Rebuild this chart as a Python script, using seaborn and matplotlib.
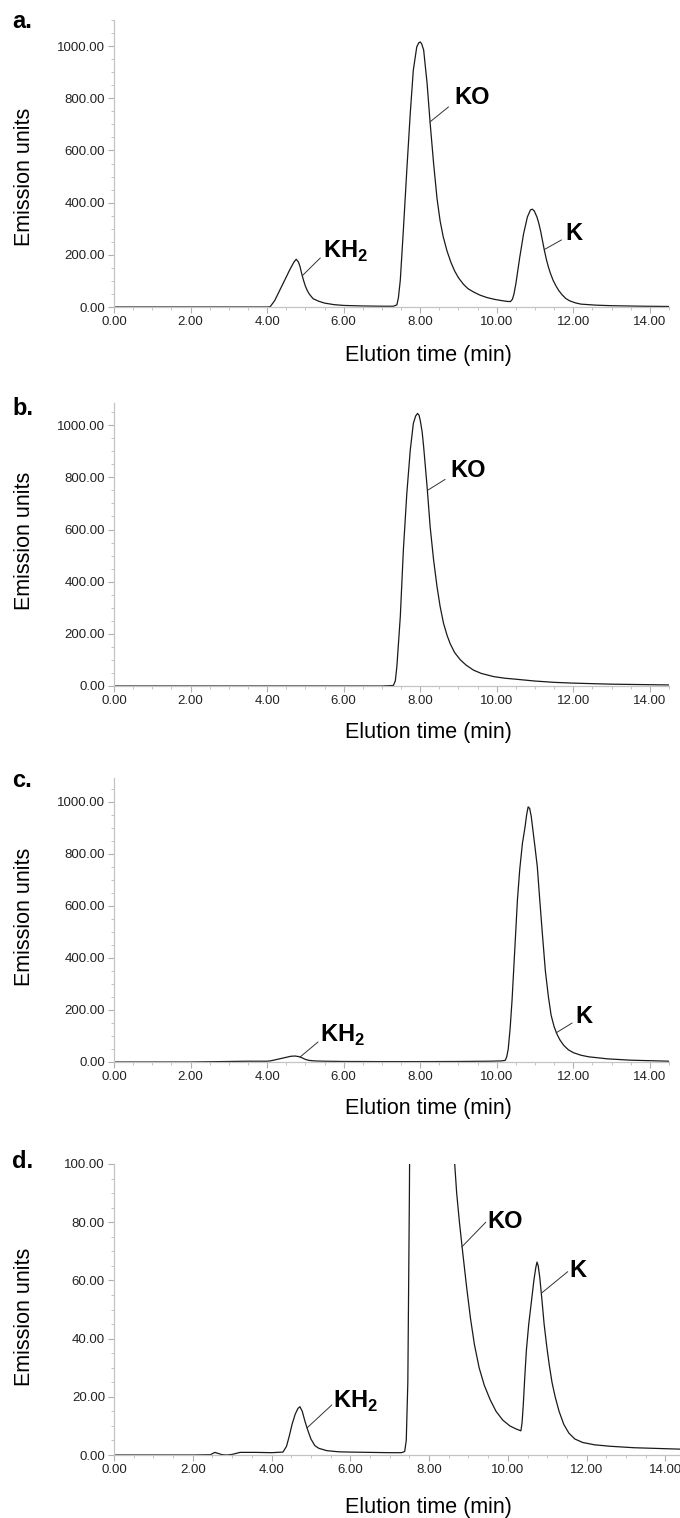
import matplotlib
matplotlib.use("Agg")
import matplotlib.pyplot as plt
import matplotlib.ticker as mticker
import seaborn as sns
import pandas as pd

# chromatogram traces (time in min, emission units)
time_a = [0.0, 2.0, 4.0, 4.08, 4.2, 4.3, 4.4, 4.5, 4.6, 4.7, 4.76, 4.82, 4.86, 4.9, 4.95, 5.0,
          5.05, 5.1, 5.2, 5.35, 5.5, 5.75, 6.0, 6.5, 7.0, 7.3, 7.39, 7.43, 7.48, 7.56, 7.65,
          7.74, 7.82, 7.91, 7.96, 8.0, 8.04, 8.09, 8.18, 8.26, 8.35, 8.44, 8.52, 8.6, 8.7,
          8.8, 8.9, 9.0, 9.13, 9.25, 9.4, 9.57, 9.75, 9.95, 10.15, 10.3, 10.36, 10.41, 10.45,
          10.5, 10.6, 10.7, 10.8, 10.88, 10.93, 10.98, 11.05, 11.1, 11.15, 11.2, 11.25, 11.3,
          11.35, 11.4, 11.47, 11.55, 11.62, 11.7, 11.8, 11.9, 12.05, 12.2, 12.6, 13.0, 13.8,
          14.5]
signal_a = [0, 0, 0, 1, 25, 55, 85, 115, 145, 172, 183, 172, 155, 130, 103, 80,
            63, 50, 32, 22, 15, 9, 6, 4, 3, 3, 8, 35, 103, 295, 525,
            742, 908, 997, 1012, 1016, 1008, 985, 857, 704, 550, 415, 330, 270, 215,
            172, 138, 112, 87, 70, 57, 45, 36, 29, 24, 21, 21, 30, 50,
            90, 190, 280, 345, 372, 375, 368, 345, 320, 288, 250, 213, 180,
            153, 130, 103, 80, 63, 48, 33, 24, 16, 11, 7, 5, 3,
            2]

time_b = [0.0, 2.0, 4.0, 6.0, 7.0, 7.3, 7.35, 7.39, 7.48, 7.56, 7.65, 7.74, 7.82, 7.88, 7.93,
          7.97, 8.0, 8.05, 8.09, 8.18, 8.26, 8.35, 8.44, 8.52, 8.61, 8.7, 8.78, 8.9, 9.05,
          9.2, 9.39, 9.6, 9.92, 10.2, 10.5, 11.0, 11.5, 12.0, 13.0, 14.5]
signal_b = [0, 0, 0, 0, 0, 2, 20, 74, 266, 521, 738, 904, 1006, 1035, 1045,
            1038, 1019, 975, 917, 764, 610, 483, 380, 305, 240, 195, 163, 128, 100,
            80, 61, 48, 36, 30, 26, 19, 14, 11, 7, 4]

time_c = [0.0, 2.0, 3.0, 3.5, 4.0, 4.08, 4.2, 4.35, 4.5, 4.62, 4.73, 4.82, 4.9, 5.0, 5.1,
          5.25, 5.5, 6.0, 7.0, 8.0, 9.0, 9.8, 10.1, 10.22, 10.26, 10.3, 10.35, 10.4, 10.47,
          10.54, 10.6, 10.67, 10.74, 10.78, 10.82, 10.86, 10.9, 10.95, 11.0, 11.06, 11.12,
          11.19, 11.27, 11.35, 11.42, 11.5, 11.58, 11.65, 11.75, 11.87, 12.0, 12.2, 12.4,
          12.9, 13.5, 14.5]
signal_c = [0, 0, 2, 3, 3, 4, 8, 13, 18, 22, 23, 21, 17, 10, 6,
            4, 3, 2, 1.5, 1.5, 2, 3, 4, 6, 20, 50, 130, 239, 430,
            623, 740, 840, 905, 950, 981, 975, 945, 885, 825, 750, 630,
            496, 350, 250, 180, 135, 105, 85, 64, 47, 36, 26, 20,
            12, 7, 3]

time_d = [0.0, 1.0, 2.0, 2.45, 2.56, 2.65, 2.75, 2.86, 3.0, 3.2, 3.4, 3.6, 4.0, 4.29, 4.38,
          4.45, 4.52, 4.6, 4.67, 4.72, 4.78, 4.85, 4.92, 5.0, 5.1, 5.2, 5.4, 5.7, 6.0, 6.5,
          7.0, 7.3, 7.38, 7.42, 7.46, 7.5, 7.53, 7.6, 7.7, 8.0, 8.3, 8.5, 8.6, 8.65, 8.7,
          8.77, 8.85, 8.95, 9.05, 9.15, 9.27, 9.4, 9.55, 9.7, 9.87, 10.05, 10.2, 10.33, 10.36,
          10.39, 10.43, 10.47, 10.53, 10.6, 10.66, 10.71, 10.74, 10.77, 10.81, 10.86, 10.92,
          10.99, 11.05, 11.12, 11.2, 11.3, 11.42, 11.55, 11.7, 11.9, 12.2, 12.6, 13.2, 14.4]
signal_d = [0, 0, 0, 0.1, 0.9, 0.5, 0.1, 0.0, 0.2, 0.9, 0.9, 0.9, 0.8, 1.0, 3,
            6.5, 10.5, 14, 16, 16.6, 15, 11.5, 8.5, 5.5, 3.2, 2.3, 1.5, 1.1, 1.0, 0.9,
            0.8, 0.8, 1.2, 5, 25, 90, 160, 300, 500, 1000, 650, 240, 130, 100, 90,
            80, 70, 58, 47, 38, 30, 24, 19, 15, 12, 10, 9, 8.3, 11,
            17, 27, 36, 45, 53, 60, 64.5, 66.3, 65, 61, 54, 45,
            37, 31, 25, 20, 15, 10.5, 7.5, 5.5, 4.3, 3.5, 3, 2.5, 2]

panels = [
    dict(letter="a.", t=time_a, y=signal_a, ylim=1100, xmax=14.5, major=200, minor=50,
         rect=[114, 20, 669, 307], ylab_y=0.453, xlab_top=345,
         peaks=[("KH$_\\mathbf{2}$", (4.92, 120), (5.39, 188), (5.45, 188)),
                ("KO", (8.26, 710), (8.74, 767), (8.89, 777)),
                ("K", (11.24, 220), (11.69, 257), (11.79, 257))]),
    dict(letter="b.", t=time_b, y=signal_b, ylim=1085, xmax=14.5, major=200, minor=50,
         rect=[114, 403, 669, 686], ylab_y=0.512, xlab_top=722,
         peaks=[("KO", (8.19, 750), (8.65, 792), (8.80, 802))]),
    dict(letter="c.", t=time_c, y=signal_c, ylim=1092, xmax=14.5, major=200, minor=50,
         rect=[114, 778, 669, 1062], ylab_y=0.51, xlab_top=1098,
         peaks=[("KH$_\\mathbf{2}$", (4.86, 19), (5.33, 77), (5.39, 77)),
                ("K", (11.55, 112), (11.97, 150), (12.05, 150))]),
    dict(letter="d.", t=time_d, y=signal_d, ylim=100, xmax=14.37, major=20, minor=5,
         rect=[114, 1164, 680, 1455], ylab_y=0.474, xlab_top=1497,
         peaks=[("KH$_\\mathbf{2}$", (4.9, 9.3), (5.53, 17.2), (5.56, 16.2)),
                ("KO", (8.83, 71.5), (9.44, 80), (9.47, 78)),
                ("K", (10.86, 55.7), (11.52, 63), (11.55, 61))]),
]
letter_baselines = [28, 415, 787, 1168]

sns.set_style("white")
plt.rcParams["font.family"] = ["Liberation Sans", "DejaVu Sans"]
plt.rcParams["mathtext.fontset"] = "custom"
plt.rcParams["mathtext.rm"] = "Liberation Sans"
plt.rcParams["mathtext.bf"] = "Liberation Sans:bold"

W, H = 680, 1518
fig = plt.figure(figsize=(W / 100, H / 100), dpi=100)
fig.patch.set_facecolor("white")

for p, base in zip(panels, letter_baselines):
    l, t, r, b = p["rect"]
    ax = fig.add_axes([l / W, 1 - b / H, (r - l) / W, (b - t) / H])
    df = pd.DataFrame({"time": p["t"], "signal": p["y"]})
    sns.lineplot(data=df, x="time", y="signal", ax=ax, color="#1a1a1a", lw=0.9,
                 estimator=None, sort=False)
    ax.set_xlim(0, p["xmax"])
    ax.set_ylim(0, p["ylim"])
    ax.xaxis.set_major_locator(mticker.MultipleLocator(2))
    ax.xaxis.set_minor_locator(mticker.MultipleLocator(0.5))
    ax.yaxis.set_major_locator(mticker.MultipleLocator(p["major"]))
    ax.yaxis.set_minor_locator(mticker.MultipleLocator(p["minor"]))
    ax.xaxis.set_major_formatter(mticker.FormatStrFormatter("%.2f"))
    ax.yaxis.set_major_formatter(mticker.FormatStrFormatter("%.2f"))
    for s in ["top", "right"]:
        ax.spines[s].set_visible(False)
    for s in ["left", "bottom"]:
        ax.spines[s].set_color("#c4c4c4")
        ax.spines[s].set_linewidth(0.9)
    ax.tick_params(which="major", length=4, width=0.8, color="#b0b0b0",
                   labelsize=9.5, labelcolor="#222222", pad=2.5, direction="out",
                   bottom=True, left=True)
    ax.tick_params(which="minor", length=2.5, width=0.7, color="#c4c4c4",
                   direction="out", bottom=True, left=True)

    ax.set_xlabel("Elution time (min)", fontsize=15.5, color="black")
    ax.set_ylabel("Emission units", fontsize=15.5, color="black")
    wpx, hpx = r - l, b - t
    ax.xaxis.set_label_coords(0.566 * 555 / wpx, -(p["xlab_top"] - b) / hpx)
    ax.yaxis.set_label_coords(-(l - 35) / wpx, p["ylab_y"])

    for label, start, end, txt in p["peaks"]:
        ax.plot([start[0], end[0]], [start[1], end[1]], color="#333333", lw=0.7,
                clip_on=False)
        ax.text(txt[0], txt[1], label, fontsize=17, fontweight="bold",
                ha="left", va="baseline", color="black")

    fig.text(12 / W, 1 - base / H, p["letter"], fontsize=17, fontweight="bold",
             ha="left", va="baseline", color="black")

fig.savefig("out.png", dpi=100, facecolor="white")
